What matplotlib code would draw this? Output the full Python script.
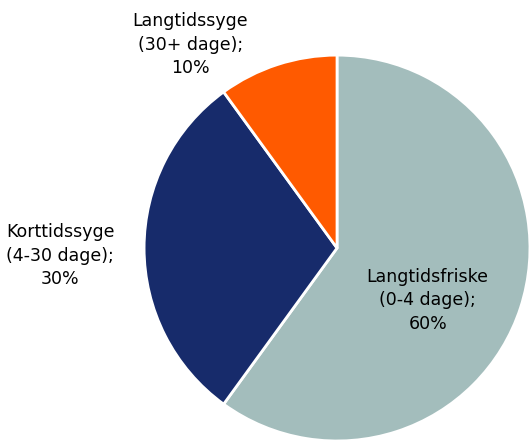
import matplotlib
matplotlib.use("Agg")
import matplotlib.pyplot as plt

categories = ["Langtidsfriske\n(0-4 dage)", "Korttidssyge\n(4-30 dage)", "Langtidssyge\n(30+ dage)"]
shares = [60, 30, 10]
colors = ["#A3BDBC", "#172B6B", "#FF5A00"]

# label centres in data units (pie radius = 1)
label_pos = [(0.47, -0.27), (-1.435, -0.04), (-0.76, 1.055)]

fig = plt.figure(figsize=(5.31, 4.42), dpi=100)
ax = fig.add_axes([0.2712, 0.0023, 0.727, 0.873])

ax.pie(
    shares,
    colors=colors,
    startangle=90,
    counterclock=False,
    radius=1,
    wedgeprops={"edgecolor": "white", "linewidth": 2},
)

for cat, val, (x, y) in zip(categories, shares, label_pos):
    ax.text(x, y, f"{cat};\n{val}%", ha="center", va="center",
            fontsize=12.5, color="#000000", linespacing=1.4,
            clip_on=False)

ax.set_xlim(-1, 1)
ax.set_ylim(-1, 1)
ax.set_aspect("equal")
ax.axis("off")

fig.savefig("out.png", dpi=100)
